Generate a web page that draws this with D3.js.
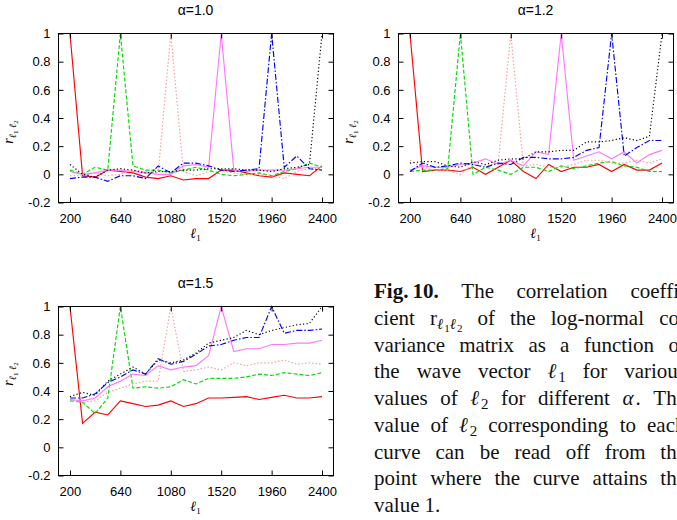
<!DOCTYPE html>
<html>
<head>
<meta charset="utf-8">
<script src="https://cdn.jsdelivr.net/npm/d3@7"></script>
<style>
  html, body { margin: 0; padding: 0; background: #fff; overflow: hidden; }
  svg { display: block; }
</style>
</head>
<body>
<svg id="fig" width="677" height="520"></svg>
<script>
// ---- data -------------------------------------------------------------
const ell1 = [200, 310, 420, 530, 640, 750, 860, 970, 1080, 1190, 1300,
              1410, 1520, 1630, 1740, 1850, 1960, 2070, 2180, 2290, 2400];
const xTicks = [200, 640, 1080, 1520, 1960, 2400];
const yTicks = [-0.2, 0, 0.2, 0.4, 0.6, 0.8, 1];
const panelTitles = ["α=1.0", "α=1.2", "α=1.5"];

// alpha = 1.0, one curve per ell2
const a10_l200  = [1.0, -0.01, -0.02, 0.03, 0.02, 0.01, -0.02, -0.03, -0.01, -0.04, -0.03, -0.03, 0.03, 0.03, 0.01, -0.01, -0.02, 0.01, 0.0, -0.01, 0.06];
const a10_l640  = [0.03, 0.0, 0.05, 0.03, 1.0, 0.06, 0.03, 0.03, 0.01, 0.03, 0.05, 0.03, 0.0, -0.01, 0.0, 0.01, -0.01, 0.02, 0.04, 0.08, 0.05];
const a10_l1080 = [-0.01, -0.01, 0.01, -0.01, 0.0, 0.03, 0.02, 0.01, 1.0, 0.02, -0.01, 0.02, 0.02, 0.01, 0.0, 0.0, -0.01, -0.03, 0.02, 0.04, 0.04];
const a10_l1520 = [0.02, 0.0, 0.01, 0.03, 0.03, 0.02, 0.01, 0.0, 0.0, 0.06, 0.07, 0.05, 1.0, 0.03, 0.02, 0.03, 0.03, 0.03, 0.04, 0.05, 0.05];
const a10_l1960 = [-0.03, -0.02, -0.02, -0.05, -0.01, -0.01, -0.03, 0.06, 0.01, 0.08, 0.08, 0.06, 0.03, 0.02, 0.03, 0.04, 1.0, 0.05, 0.13, 0.04, 0.03];
const a10_l2400 = [0.07, 0.0, -0.02, 0.03, 0.04, 0.03, 0.01, 0.02, 0.02, 0.03, 0.03, 0.04, 0.04, 0.04, 0.03, 0.03, 0.02, 0.04, 0.05, 0.07, 1.0];

// alpha = 1.2
const a12_l200  = [1.0, 0.02, 0.03, 0.03, 0.02, 0.05, 0.0, 0.05, 0.1, 0.02, -0.03, 0.07, 0.02, 0.05, 0.05, 0.07, 0.02, 0.07, 0.03, 0.03, 0.08];
const a12_l640  = [0.02, 0.03, 0.03, 0.04, 1.0, 0.0, 0.05, 0.03, 0.0, 0.05, 0.05, 0.02, 0.06, 0.04, 0.06, 0.08, 0.09, 0.06, 0.05, 0.02, 0.02];
const a12_l1080 = [0.1, 0.05, 0.03, 0.03, 0.0, 0.07, 0.06, 0.08, 1.0, 0.06, 0.07, 0.05, 0.05, 0.07, 0.1, 0.1, 0.08, 0.08, 0.1, 0.08, 0.11];
const a12_l1520 = [0.03, 0.06, 0.05, 0.05, 0.07, 0.08, 0.11, 0.07, 0.1, 0.06, 0.16, 0.14, 1.0, 0.1, 0.13, 0.16, 0.11, 0.16, 0.08, 0.14, 0.17];
const a12_l1960 = [0.02, 0.08, 0.05, 0.06, 0.08, 0.07, 0.05, 0.08, 0.07, 0.12, 0.12, 0.11, 0.11, 0.12, 0.17, 0.19, 1.0, 0.13, 0.19, 0.24, 0.24];
const a12_l2400 = [0.08, 0.09, 0.09, 0.06, 0.05, 0.09, 0.07, 0.1, 0.11, 0.11, 0.16, 0.16, 0.17, 0.17, 0.23, 0.23, 0.24, 0.26, 0.24, 0.27, 1.0];

// alpha = 1.5
const a15_l200  = [1.0, 0.17, 0.25, 0.23, 0.33, 0.31, 0.29, 0.3, 0.33, 0.29, 0.31, 0.35, 0.35, 0.355, 0.36, 0.34, 0.355, 0.37, 0.35, 0.35, 0.36];
const a15_l640  = [0.33, 0.32, 0.24, 0.35, 1.0, 0.42, 0.43, 0.42, 0.43, 0.48, 0.45, 0.49, 0.49, 0.49, 0.5, 0.52, 0.51, 0.53, 0.52, 0.51, 0.53];
const a15_l1080 = [0.34, 0.32, 0.33, 0.39, 0.42, 0.45, 0.47, 0.47, 1.0, 0.54, 0.55, 0.57, 0.55, 0.6, 0.58, 0.6, 0.6, 0.62, 0.59, 0.6, 0.59];
const a15_l1520 = [0.34, 0.33, 0.35, 0.43, 0.47, 0.52, 0.51, 0.58, 0.55, 0.57, 0.58, 0.65, 1.0, 0.68, 0.7, 0.7, 0.73, 0.73, 0.74, 0.74, 0.76];
const a15_l1960 = [0.35, 0.35, 0.38, 0.46, 0.5, 0.55, 0.52, 0.63, 0.59, 0.61, 0.66, 0.72, 0.73, 0.76, 0.78, 0.78, 1.0, 0.81, 0.83, 0.83, 0.84];
const a15_l2400 = [0.36, 0.39, 0.37, 0.47, 0.52, 0.57, 0.52, 0.62, 0.6, 0.62, 0.67, 0.74, 0.76, 0.78, 0.83, 0.8, 0.83, 0.85, 0.87, 0.88, 1.0];

// ---- layout & styles --------------------------------------------------
const svg = d3.select("#fig");
const plotW = 275, plotH = 169;

const curveStyles = [
  { color: "#ff0000", dash: null },            // ell2 = 200
  { color: "#00dd00", dash: "4,2" },           // ell2 = 640
  { color: "#ff9a9a", dash: "1.5,2" },         // ell2 = 1080
  { color: "#ff77ff", dash: null },            // ell2 = 1520
  { color: "#0000ff", dash: "6,2,1.5,2" },     // ell2 = 1960
  { color: "#000000", dash: "1.2,2.3" }        // ell2 = 2400
];

const panels = [
  { title: panelTitles[0], left: 58,  top: 33,  ylabY: 132,
    curves: [a10_l200, a10_l640, a10_l1080, a10_l1520, a10_l1960, a10_l2400] },
  { title: panelTitles[1], left: 398, top: 33,  ylabY: 132,
    curves: [a12_l200, a12_l640, a12_l1080, a12_l1520, a12_l1960, a12_l2400] },
  { title: panelTitles[2], left: 58,  top: 306, ylabY: 374,
    curves: [a15_l200, a15_l640, a15_l1080, a15_l1520, a15_l1960, a15_l2400] }
];

const sansFont = "'Liberation Sans', Arial, Helvetica, sans-serif";
const serifFont = "'Liberation Serif', 'Times New Roman', 'DejaVu Serif', serif";
const yFmt = d => (d === 0 ? "0" : d === 1 ? "1" : String(d));

panels.forEach(p => {
  const x = d3.scaleLinear().domain([100, 2500]).range([0, plotW]);
  const y = d3.scaleLinear().domain([-0.2, 1]).range([plotH, 0]);
  const g = svg.append("g").attr("transform", `translate(${p.left + 0.5},${p.top + 0.5})`);

  // curves
  const line = d3.line().x((d, i) => x(ell1[i])).y(d => y(d));
  p.curves.forEach((vals, k) => {
    const st = curveStyles[k];
    g.append("path")
      .datum(vals)
      .attr("d", line)
      .attr("fill", "none")
      .attr("stroke", st.color)
      .attr("stroke-width", 1.15)
      .attr("stroke-dasharray", st.dash);
  });

  // axes: gnuplot-style inward ticks, mirrored on all four sides
  const styleAxis = sel => {
    sel.select(".domain").remove();
    sel.selectAll("line").attr("stroke", "#000");
    sel.selectAll("text").attr("font-family", sansFont).attr("font-size", 13).attr("fill", "#000");
  };
  g.append("g").attr("transform", `translate(0,${plotH})`)
    .call(d3.axisBottom(x).tickValues(xTicks).tickSizeInner(-5).tickSizeOuter(0)
      .tickPadding(11).tickFormat(d3.format("d")))
    .call(styleAxis);
  g.append("g")
    .call(d3.axisTop(x).tickValues(xTicks).tickSizeInner(-5).tickSizeOuter(0).tickFormat(() => ""))
    .call(styleAxis);
  g.append("g")
    .call(d3.axisLeft(y).tickValues(yTicks).tickSizeInner(-5).tickSizeOuter(0)
      .tickPadding(8).tickFormat(yFmt))
    .call(styleAxis);
  g.append("g").attr("transform", `translate(${plotW},0)`)
    .call(d3.axisRight(y).tickValues(yTicks).tickSizeInner(-5).tickSizeOuter(0).tickFormat(() => ""))
    .call(styleAxis);

  // frame
  g.append("rect").attr("width", plotW).attr("height", plotH)
    .attr("fill", "none").attr("stroke", "#000").attr("stroke-width", 1);

  // title
  svg.append("text")
    .attr("x", p.left + plotW / 2).attr("y", p.top - 18)
    .attr("text-anchor", "middle")
    .attr("font-family", sansFont).attr("font-size", 14)
    .text(p.title);

  // x label: ell_1
  const xl = svg.append("text")
    .attr("x", p.left + plotW / 2).attr("y", p.top + plotH + 36)
    .attr("text-anchor", "middle")
    .attr("font-family", serifFont).attr("font-size", 14);
  xl.append("tspan").attr("font-style", "italic").text("ℓ");
  xl.append("tspan").attr("font-size", 9).attr("dy", 3).text("1");

  // y label: r_{ell1 ell2}
  const yl = svg.append("text")
    .attr("transform", `translate(${p.left - 45},${p.ylabY}) rotate(-90)`)
    .attr("text-anchor", "middle")
    .attr("font-family", serifFont).attr("font-size", 14).attr("font-style", "italic");
  yl.append("tspan").text("r");
  yl.append("tspan").attr("font-size", 10).attr("dy", 3).text("ℓ");
  yl.append("tspan").attr("font-size", 7).attr("font-style", "normal").attr("dy", 2).text("1");
  yl.append("tspan").attr("font-size", 10).attr("dy", -2).text(" ℓ");
  yl.append("tspan").attr("font-size", 7).attr("font-style", "normal").attr("dy", 2).text("2");
});

// ---- caption (justified lines) -----------------------------------------
// segment kinds: n normal, b bold, i italic, si subscript italic, s subscript, ss second-level subscript
const segStyle = {
  n:  { size: 21, shift: 0, weight: "normal", style: "normal", ls: 0 },
  b:  { size: 21, shift: 0, weight: "bold",   style: "normal", ls: 0 },
  i:  { size: 21, shift: 0, weight: "normal", style: "italic", ls: 2 },
  s:  { size: 15, shift: 4, weight: "normal", style: "normal", ls: 0 },
  si: { size: 15, shift: 4, weight: "normal", style: "italic", ls: 1 },
  ss: { size: 11, shift: 7, weight: "normal", style: "normal", ls: 0 }
};
const w = t => [[t, "n"]];
const captionLines = [
  [[["Fig.\u200910.", "b"]], w("The"), w("correlation"), w("coeffi-")],
  [w("cient"), [["r", "n"], ["ℓ", "si"], ["1", "ss"], ["ℓ", "si"], ["2", "ss"]], w("of"), w("the"), w("log-normal"), w("co-")],
  [w("variance"), w("matrix"), w("as"), w("a"), w("function"), w("of")],
  [w("the"), w("wave"), w("vector"), [["ℓ", "i"], ["1", "s"]], w("for"), w("various")],
  [w("values"), w("of"), [["ℓ", "i"], ["2", "s"]], w("for"), w("different"), [["α", "i"], [".", "n"]], w("The")],
  [w("value"), w("of"), [["ℓ", "i"], ["2", "s"]], w("corresponding"), w("to"), w("each")],
  [w("curve"), w("can"), w("be"), w("read"), w("off"), w("from"), w("the")],
  [w("point"), w("where"), w("the"), w("curve"), w("attains"), w("the")],
  [w("value"), w("1.")]
];
const capLeft = 374, capWidth = 312, capTop = 298, capStep = 26.75;

const cap = svg.append("g").attr("font-family", serifFont).attr("fill", "#111");
captionLines.forEach((words, li) => {
  const baseY = capTop + li * capStep;
  const nodes = words.map(segs => {
    const t = cap.append("text").attr("x", 0).attr("y", baseY);
    let prev = 0;
    segs.forEach(([txt, kind]) => {
      const st = segStyle[kind];
      t.append("tspan")
        .attr("font-size", st.size).attr("font-weight", st.weight).attr("font-style", st.style)
        .attr("letter-spacing", st.ls)
        .attr("dy", st.shift - prev)
        .text(txt);
      prev = st.shift;
    });
    return t;
  });
  const widths = nodes.map(t => t.node().getBBox().width);
  const total = d3.sum(widths);
  const last = li === captionLines.length - 1;
  const gap = last ? 5 : (capWidth - total) / (words.length - 1);
  let cx = capLeft;
  nodes.forEach((t, k) => {
    t.attr("x", cx);
    cx += widths[k] + gap;
  });
});
</script>
</body>
</html>
